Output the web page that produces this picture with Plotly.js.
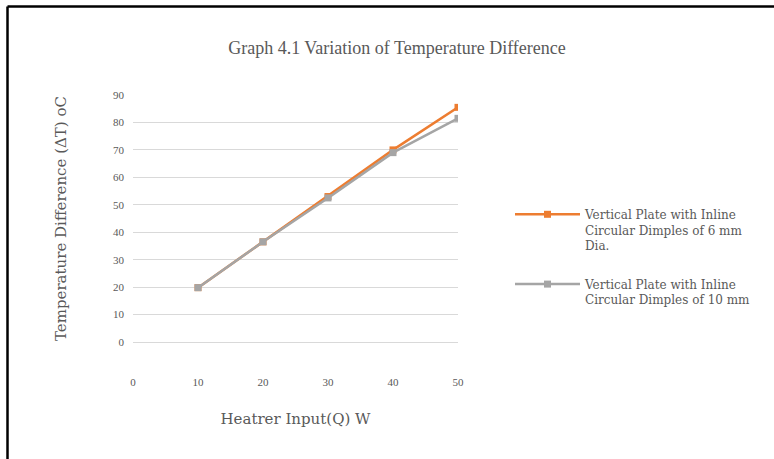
<!DOCTYPE html>
<html><head><meta charset="utf-8">
<script src="https://cdn.plot.ly/plotly-3.0.1.min.js"></script>
<style>body{margin:0;background:#fff}#chart{width:774px;height:459px}</style>
</head><body><div id="chart"></div>
<script>
const heaterInput = [10, 20, 30, 40, 50];
const dimples6mm = [19.8, 36.5, 53, 70, 85.5];
const dimples10mm = [19.8, 36.5, 52.5, 69, 81.5];
const seriesNames = [
  'Vertical Plate with Inline<br>Circular Dimples of 6 mm<br>Dia.',
  'Vertical Plate with Inline<br>Circular Dimples of 10 mm'
];
const xTicks = [0, 10, 20, 30, 40, 50];
const yTicks = [0, 10, 20, 30, 40, 50, 60, 70, 80, 90];

const serif = 'Liberation Serif, Times New Roman, serif';
const wideSerif = 'DejaVu Serif, serif';
const traces = [
  {x: heaterInput, y: dimples6mm, name: seriesNames[0], legendgroup: 'g6', mode: 'lines+markers',
   line: {color: '#ED7D31', width: 2.5}, marker: {symbol: 'square', size: 7, color: '#ED7D31'}},
  {x: heaterInput, y: dimples10mm, name: seriesNames[1], legendgroup: 'g10', mode: 'lines+markers',
   line: {color: '#A5A5A5', width: 2.5}, marker: {symbol: 'square', size: 7, color: '#A5A5A5'}}
];
const layout = {
  width: 774, height: 459,
  margin: {l: 133, r: 316, t: 95, b: 117},
  paper_bgcolor: '#fff', plot_bgcolor: '#fff',
  font: {family: serif, color: '#595959', size: 11},
  title: {text: 'Graph 4.1 Variation of Temperature Difference', x: 397/774, xanchor: 'center',
          y: 1 - 48/459, yanchor: 'middle', font: {family: serif, size: 18, color: '#595959'}},
  xaxis: {range: [0, 50], tickvals: xTicks, showgrid: false, zeroline: false,
          showline: true, linecolor: '#d9d9d9', linewidth: 1, ticks: '',
          ticklabelstandoff: 30, tickfont: {size: 11, color: '#595959'},
          title: {text: 'Heatrer Input(Q) W', font: {family: wideSerif, size: 15, color: '#595959'}, standoff: 26}},
  yaxis: {range: [0, 90], tickvals: yTicks, showgrid: true, gridcolor: '#d9d9d9', gridwidth: 1,
          zeroline: false, showline: false, ticks: '', ticklabelstandoff: 8,
          tickfont: {size: 11, color: '#595959'},
          title: {text: 'Temperature Difference (ΔT) oC', font: {family: wideSerif, size: 15, color: '#595959'}, standoff: 42}},
  legend: {x: (510 - 133) / 325, xanchor: 'left', y: (342 - 200) / 247, yanchor: 'top',
           font: {family: wideSerif, size: 12, color: '#595959'}, tracegroupgap: 20,
           itemwidth: 65, valign: 'top', bgcolor: 'rgba(0,0,0,0)'},
  shapes: [
    {type: 'line', xref: 'paper', yref: 'paper', x0: (7.5 - 133) / 325, x1: (7.5 - 133) / 325,
     y0: (342 - 6.5) / 247, y1: -0.6, line: {color: '#000', width: 2.5}},
    {type: 'line', xref: 'paper', yref: 'paper', x0: (7.5 - 133) / 325, x1: 2.2,
     y0: (342 - 6.5) / 247, y1: (342 - 6.5) / 247, line: {color: '#000', width: 2.5}}
  ],
  showlegend: true
};
Plotly.newPlot('chart', traces, layout, {displayModeBar: false, staticPlot: true});
</script></body></html>
